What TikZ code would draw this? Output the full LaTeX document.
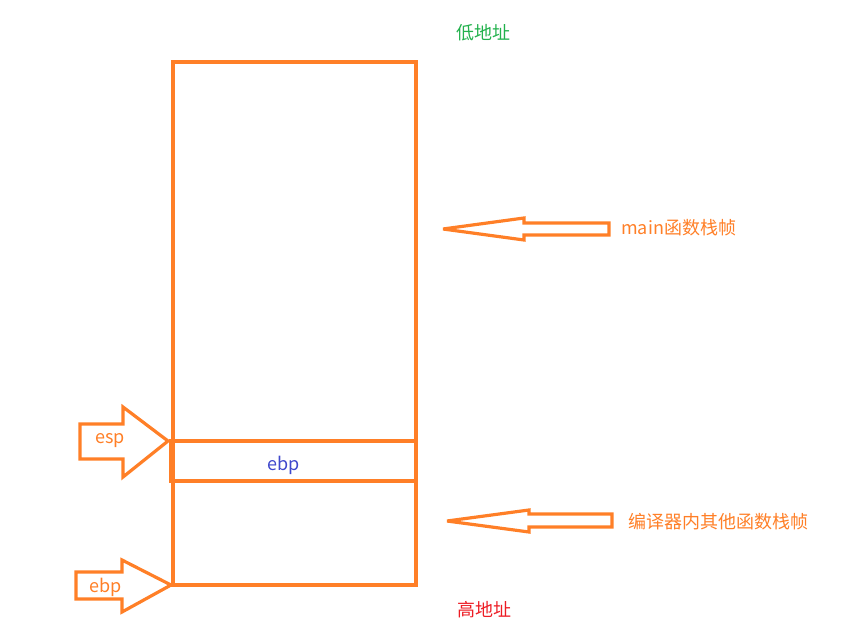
\documentclass[tikz,border=0pt]{standalone}
\usepackage{fontspec}
\newfontfamily\cjk{Noto Sans CJK SC}
\usepackage{tikz}
\usetikzlibrary{positioning, calc}

\definecolor{stackorange}{RGB}{255,127,39}
\definecolor{lowgreen}{RGB}{34,177,76}
\definecolor{highred}{RGB}{237,28,36}
\definecolor{regblue}{RGB}{63,72,204}

\tikzset{
  frame/.style={draw=stackorange, line width=2.6pt},
  blockarrow/.style={draw=stackorange, line width=2.4pt, line join=miter, miter limit=4},
  label/.style={font=\cjk\fontsize{13.5}{15}\selectfont, inner sep=0pt}
}

\begin{document}
\begin{tikzpicture}[x=0.75pt, y=-0.75pt]
  \useasboundingbox (0,0) rectangle (848,627);

  % Stack frame box
  \draw[frame] (173,62) rectangle (416,585);
  \coordinate (topleft) at (173,62);
  \coordinate (botleft) at (171,585);

  % ebp slot
  \draw[frame] (171,441) rectangle (416,481);
  \coordinate (slotleft) at (168,441);
  \node[label, text=regblue] (slot) at (284,465) {ebp};

  % Address labels
  \node[label, text=lowgreen] (low) at (483,33) {低地址};
  \node[label, text=highred] (high) at (484,610) {高地址};

  % esp pointer
  \draw[blockarrow] (80,424) -- (123,424) -- (123,407) -- (slotleft)
    -- (123,477) -- (123,459) -- (80,459) -- cycle;
  \node[label, text=stackorange] (esp) at (110,441) {esp};

  % ebp pointer
  \draw[blockarrow] (76,572) -- (122,572) -- (122,560) -- (botleft)
    -- (122,612) -- (122,599) -- (76,599) -- cycle;
  \node[label, text=stackorange] (ebp) at (106,587) {ebp};

  % main frame arrow
  \coordinate (maintip) at (443,229);
  \draw[blockarrow] (maintip) -- (524,218) -- (524,223) -- (609,223)
    -- (609,235) -- (524,235) -- (524,240) -- cycle;
  \node[label, text=stackorange, anchor=west] (mainframe) at (621,228) {main函数栈帧};

  % other frames arrow
  \coordinate (othertip) at (447,521);
  \draw[blockarrow] (othertip) -- (529,510) -- (529,514) -- (612,514)
    -- (612,527) -- (529,527) -- (529,532) -- cycle;
  \node[label, text=stackorange, anchor=west] (otherframe) at (628,522) {编译器内其他函数栈帧};
\end{tikzpicture}
\end{document}
